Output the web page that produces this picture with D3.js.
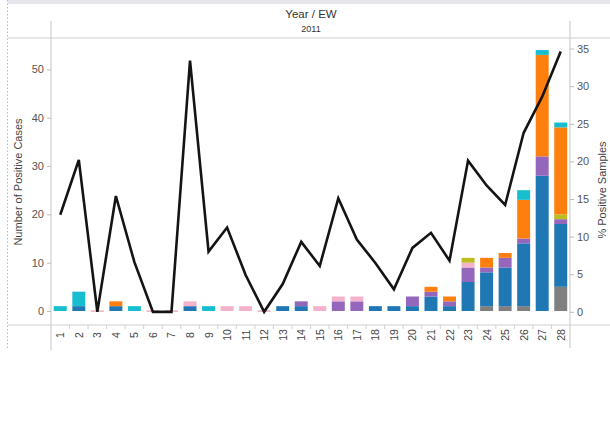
<!DOCTYPE html>
<html>
<head>
<meta charset="utf-8">
<script src="https://cdn.jsdelivr.net/npm/d3@7/dist/d3.min.js"></script>
<style>
  html, body { margin: 0; padding: 0; background: #fff; }
  svg { display: block; font-family: Arial, "Liberation Sans", sans-serif; }
</style>
</head>
<body>
<svg id="chart" width="610" height="428"></svg>
<script>
// Epidemiological weeks of 2011
const weeks = ["1","2","3","4","5","6","7","8","9","10","11","12","13","14",
               "15","16","17","18","19","20","21","22","23","24","25","26","27","28"];

// % of samples testing positive (right axis)
const pctPositive = [12.9, 20.2, 0, 15.4, 6.6, 0, 0, 33.4, 8.0, 11.2, 4.9, 0, 3.7, 9.3,
                     6.1, 15.1, 9.6, 6.5, 3.0, 8.5, 10.5, 6.8, 20.1, 16.8, 14.2, 23.8, 28.6, 34.6];

// Positive cases by virus type, stacked bottom to top (left axis)
const grayCases   = [0,0,0,0,0,0,0,0,0,0,0,0,0,0, 0,0,0,0,0,0,0,0,0,1,1,1,0,5];
const blueCases   = [0,1,0,1,0,0,0,1,0,0,0,0,1,1, 0,0,0,1,1,1,3,1,6,7,8,13,28,13];
const purpleCases = [0,0,0,0,0,0,0,0,0,0,0,0,0,1, 0,2,2,0,0,2,1,1,3,1,2,1,4,1];
const pinkCases   = [0,0,0,0,0,0,0,1,0,1,1,0,0,0, 1,1,1,0,0,0,0,0,1,0,0,0,0,0];
const oliveCases  = [0,0,0,0,0,0,0,0,0,0,0,0,0,0, 0,0,0,0,0,0,0,0,1,0,0,0,0,1];
const orangeCases = [0,0,0,1,0,0,0,0,0,0,0,0,0,0, 0,0,0,0,0,0,1,1,0,2,1,8,21,18];
const cyanCases   = [1,3,0,0,1,0,0,0,1,0,0,0,0,0, 0,0,0,0,0,0,0,0,0,0,0,2,1,1];

const seriesKeys   = ["gray","blue","purple","pink","olive","orange","cyan"];
const seriesValues = [grayCases, blueCases, purpleCases, pinkCases, oliveCases, orangeCases, cyanCases];
const seriesColors = ["#7f7f7f","#1f77b4","#9467bd","#f5b2cc","#bcbd22","#ff7f0e","#17becf"];

const leftTicks  = [0, 10, 20, 30, 40, 50];
const rightTicks = [0, 5, 10, 15, 20, 25, 30, 35];

const table = weeks.map((w, i) => {
  const row = { week: w, pct: pctPositive[i] };
  seriesKeys.forEach((k, j) => { row[k] = seriesValues[j][i]; });
  return row;
});

const svg = d3.select("#chart");

const paneLeft = 51, paneRight = 570, paneTop = 38, paneBottom = 325;

const x = d3.scaleBand().domain(weeks).range([paneLeft, paneRight])
  .paddingInner(0.3).paddingOuter(0.15);
const yLeft = d3.scaleLinear().domain([-2.9, 56.5]).range([paneBottom, paneTop]);
const yRight = d3.scaleLinear().domain([-1.75, 36.4]).range([paneBottom, paneTop]);
const color = d3.scaleOrdinal().domain(seriesKeys).range(seriesColors);

// thin title strip along the top edge
svg.append("rect").attr("x", 8).attr("y", 0).attr("width", 602).attr("height", 4)
  .attr("fill", "#e6e6ec");

// dotted outer border on the left
svg.append("line").attr("x1", 7.5).attr("x2", 7.5).attr("y1", 0).attr("y2", 350)
  .attr("stroke", "#b8b8c8").attr("stroke-dasharray", "1.5,2");

// header texts
svg.append("text").attr("x", 311).attr("y", 18).attr("text-anchor", "middle")
  .attr("font-size", 11.5).attr("fill", "#333").text("Year / EW");
svg.append("text").attr("x", 311).attr("y", 32).attr("text-anchor", "middle")
  .attr("font-size", 9).attr("fill", "#333").text("2011");

// pane frame lines
const frame = svg.append("g").attr("stroke", "#cfcfcf").attr("stroke-width", 1.2);
frame.append("line").attr("x1", 8).attr("x2", 610).attr("y1", paneTop).attr("y2", paneTop);
frame.append("line").attr("x1", 8).attr("x2", 610).attr("y1", paneBottom).attr("y2", paneBottom);
frame.append("line").attr("x1", paneLeft).attr("x2", paneLeft).attr("y1", 21).attr("y2", 350);
frame.append("line").attr("x1", paneRight).attr("x2", paneRight).attr("y1", 21).attr("y2", 348);

// stacked bars
const stacked = d3.stack().keys(seriesKeys)(table);
svg.append("g").selectAll("g").data(stacked).join("g")
  .attr("fill", d => color(d.key))
  .selectAll("rect").data(d => d.filter(s => s[1] > s[0])).join("rect")
  .attr("x", d => x(d.data.week))
  .attr("width", x.bandwidth())
  .attr("y", d => yLeft(d[1]))
  .attr("height", d => yLeft(d[0]) - yLeft(d[1]));

// weeks with no positive cases get a hairline at zero
svg.append("g").selectAll("rect")
  .data(table.filter(r => seriesKeys.every(k => r[k] === 0)))
  .join("rect")
  .attr("x", d => x(d.week)).attr("width", x.bandwidth())
  .attr("y", yLeft(0) - 0.5).attr("height", 1.2)
  .attr("fill", "#e89aae");

// % positive line
const line = d3.line()
  .x(d => x(d.week) + x.bandwidth() / 2)
  .y(d => yRight(d.pct));
svg.append("path").datum(table).attr("d", line)
  .attr("fill", "none").attr("stroke", "#141414").attr("stroke-width", 2.6)
  .attr("stroke-linejoin", "miter");

// left axis
const axL = svg.append("g").attr("transform", `translate(${paneLeft},0)`)
  .call(d3.axisLeft(yLeft).tickValues(leftTicks).tickSize(4).tickPadding(3));
axL.select(".domain").remove();
axL.selectAll("line").attr("stroke", "#bbb");
axL.selectAll("text").attr("font-size", 11).attr("fill", "#555")
  .attr("font-family", "Arial, 'Liberation Sans', sans-serif");

// right axis
const axR = svg.append("g").attr("transform", `translate(${paneRight},0)`)
  .call(d3.axisRight(yRight).tickValues(rightTicks).tickSize(4).tickPadding(3));
axR.select(".domain").remove();
axR.selectAll("line").attr("stroke", "#bbb");
axR.selectAll("text").attr("font-size", 11).attr("fill", "#555")
  .attr("font-family", "Arial, 'Liberation Sans', sans-serif");

// week labels below the pane
const axB = svg.append("g").attr("transform", `translate(0,${paneBottom})`)
  .call(d3.axisBottom(x).tickSize(0).tickPadding(0));
axB.select(".domain").remove();
axB.selectAll("text")
  .attr("font-size", 10.5).attr("fill", "#444")
  .attr("font-family", "Arial, 'Liberation Sans', sans-serif")
  .attr("text-anchor", "middle").attr("dy", null).attr("y", null)
  .attr("dominant-baseline", "central")
  .attr("transform", "translate(0,10) rotate(-90)");

// small separators between week columns
svg.append("g").selectAll("line").data(weeks.slice(1)).join("line")
  .attr("x1", d => x(d) - x.step() * x.paddingInner() / 2)
  .attr("x2", d => x(d) - x.step() * x.paddingInner() / 2)
  .attr("y1", paneBottom).attr("y2", paneBottom + 4)
  .attr("stroke", "#d0d0d0");

// axis titles
svg.append("text")
  .attr("transform", "translate(18,182) rotate(-90)")
  .attr("text-anchor", "middle").attr("dominant-baseline", "central")
  .attr("font-size", 11).attr("fill", "#444").text("Number of Positive Cases");
svg.append("text")
  .attr("transform", "translate(602,190) rotate(-90)")
  .attr("text-anchor", "middle").attr("dominant-baseline", "central")
  .attr("font-size", 11).attr("fill", "#444").text("% Positive Samples");
</script>
</body>
</html>
